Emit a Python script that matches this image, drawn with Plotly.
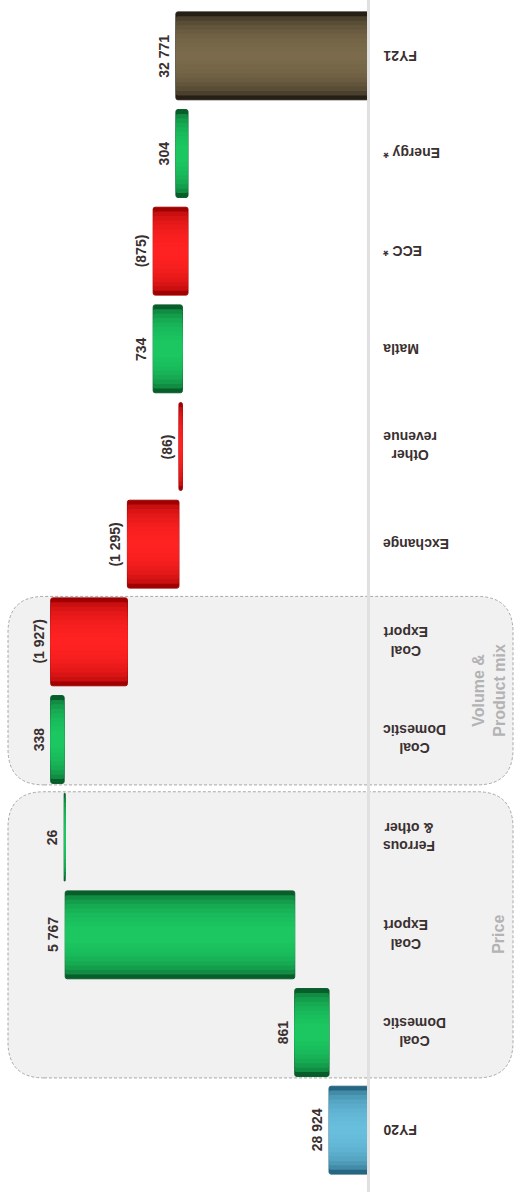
import math
import plotly.graph_objects as go

# Revenue bridge FY20 -> FY21 (R million)
categories = ["FY20", "Coal<br>Domestic", "Coal<br>Export", "Ferrous<br>& other",
              "Coal<br>Domestic", "Coal<br>Export", "Exchange", "Other<br>revenue",
              "Matla", "ECC *", "Energy *", "FY21"]
kinds = ["total", "delta", "delta", "delta", "delta", "delta", "delta", "delta",
         "delta", "delta", "delta", "total"]
values = [28924, 861, 5767, 26, 338, -1927, -1295, -86, 734, -875, 304, 32771]

groups = [("Price", 1, 3, 499), ("Volume &<br>Product mix", 4, 5, 489)]

# edge / centre colours used to shade each bar like a cylinder
tones = {
    "up":    ("#085e2b", "#1cc862"),
    "down":  ("#a00000", "#ff2222"),
    "start": ("#276681", "#68bedd"),
    "end":   ("#261f15", "#7b6b4c"),
}
N_LAYERS = 10
BAR_W = 0.90


def hex2rgb(h):
    h = h.lstrip("#")
    return [int(h[i:i + 2], 16) for i in (0, 2, 4)]


def mix(c0, c1, s):
    a, b = hex2rgb(c0), hex2rgb(c1)
    return "rgb({},{},{})".format(*[round(x + (y - x) * s) for x, y in zip(a, b)])


idx = list(range(len(values)))
bases, lengths, kind_keys = [], [], []
running = 0
for i, (k, v) in enumerate(zip(kinds, values)):
    if k == "total":
        bases.append(0)
        lengths.append(v)
        running = v
        kind_keys.append("start" if i == 0 else "end")
    else:
        bases.append(running)
        lengths.append(v)
        running += v
        kind_keys.append("up" if v >= 0 else "down")


def fmt(v):
    s = f"{abs(v):,}".replace(",", " ")
    return f"({s})" if v < 0 else s


fig = go.Figure()
for j in range(N_LAYERS):
    t = 1 - j / N_LAYERS
    s = math.sqrt(max(0.0, 1 - t * t))
    cols = [mix(tones[k][0], tones[k][1], s) for k in kind_keys]
    fig.add_trace(go.Bar(
        y=idx, x=lengths, base=bases, orientation="h", width=BAR_W * t,
        marker=dict(color=cols, cornerradius=2,
                    line=dict(width=1 if j == 0 else 0, color=cols)),
        hoverinfo="skip", showlegend=False,
    ))

TXT = "#3a3030"
ann = []
for i in idx:
    far = max(bases[i], bases[i] + lengths[i])
    ann.append(dict(x=far, y=i, xref="x", yref="y", text="<b>" + fmt(values[i]) + "</b>",
                    showarrow=False, textangle=-90, xanchor="right",
                    yanchor="middle", xshift=-2,
                    font=dict(family="Liberation Sans", size=14, color=TXT)))
    ann.append(dict(x=1, y=i, xref="paper", yref="y",
                    text="<b>" + categories[i].replace("<br>", "</b><br><b>") + "</b>",
                    showarrow=False, textangle=180, xanchor="left",
                    yanchor="middle", xshift=14, align="center",
                    font=dict(family="Liberation Sans", size=14, color=TXT)))

# plot geometry in pixels (used to lay out the group panels)
W, H = 514, 1192
ML, MR, MT, MB = 0, 147, 7, 13
PW, PH = W - ML - MR, H - MT - MB
y_lo, y_hi = -0.5, len(values) - 0.5


def py(v):  # category index -> paper y
    return (v - y_lo) / (y_hi - y_lo)


def rounded(x0, x1, y0, y1, r):
    rx, ry = r / PW, r / PH
    return (f"M {x0 + rx},{y0} L {x1 - rx},{y0} Q {x1},{y0} {x1},{y0 + ry} "
            f"L {x1},{y1 - ry} Q {x1},{y1} {x1 - rx},{y1} "
            f"L {x0 + rx},{y1} Q {x0},{y1} {x0},{y1 - ry} "
            f"L {x0},{y0 + ry} Q {x0},{y0} {x0 + rx},{y0} Z")


shapes = []
px0, px1 = 8 / PW, 513 / PW
for label, a, b, lx in groups:
    y0, y1 = py(a - 0.5 + 0.035), py(b + 0.5 - 0.035)
    shapes.append(dict(type="path", xref="paper", yref="paper",
                       path=rounded(px0, px1, y0, y1, 36),
                       fillcolor="#f1f1f1",
                       line=dict(color="#a8a8a8", width=1, dash="3px,2px"),
                       layer="below"))
    ann.append(dict(x=lx / PW, y=(a + b) / 2, xref="paper", yref="y",
                    text="<b>" + label.replace("<br>", "</b><br><b>") + "</b>",
                    showarrow=False, textangle=-90, xanchor="center",
                    yanchor="middle", align="center",
                    font=dict(family="Liberation Sans", size=16, color="#b3b3b3")))

# baseline of the value axis
shapes.append(dict(type="line", xref="paper", yref="paper", x0=1.004, x1=1.004,
                   y0=-0.02, y1=1.01, line=dict(color="#e0e0e0", width=3),
                   layer="below"))

fig.update_layout(
    width=W, height=H,
    margin=dict(l=ML, r=MR, t=MT, b=MB),
    barmode="overlay",
    paper_bgcolor="white", plot_bgcolor="rgba(0,0,0,0)",
    xaxis=dict(range=[37190, 27970], visible=False, fixedrange=True),
    yaxis=dict(range=[y_lo, y_hi], visible=False, fixedrange=True),
    shapes=shapes, annotations=ann, showlegend=False,
)

fig.write_html("out.html")
